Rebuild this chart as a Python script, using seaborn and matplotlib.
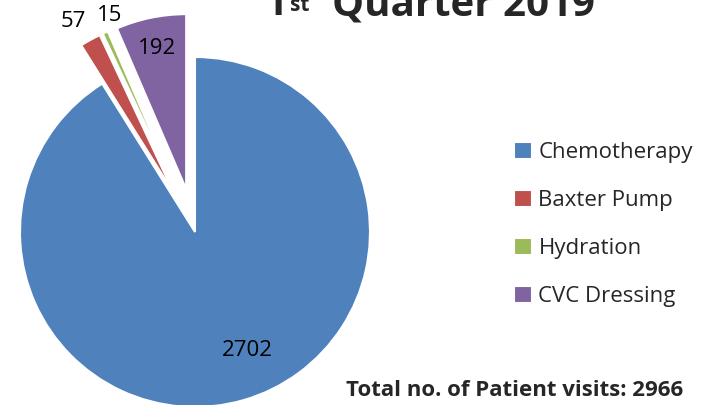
import matplotlib.pyplot as plt
import numpy as np
import seaborn as sns

# Chart data
categories = ["Chemotherapy", "Baxter Pump", "Hydration", "CVC Dressing"]
visits = [2702, 57, 15, 192]
colors = ["#4F81BD", "#C0504D", "#9BBB59", "#8064A2"]
explode = [0, 0.25, 0.25, 0.25]
# label placement (radius fraction, angle nudge in degrees)
label_dist = [0.74, 1.14, 1.08, 0.82]
label_nudge = [8, 1.6, -3.4, 0]
total_visits = 2966

sns.set_theme(style="white")
plt.rcParams["font.family"] = ["Open Sans", "DejaVu Sans"]

fig = plt.figure(figsize=(7.17, 4.05), dpi=100)

# pie axes: centre at (195, 232) px from top-left, radius 175 px
R_PX = 175
LIM = 1.3
w_px = 2 * LIM * R_PX
cx, cy = 195, 405 - 232
ax = fig.add_axes([(cx - w_px / 2) / 717, (cy - w_px / 2) / 405, w_px / 717, w_px / 405])

wedges, _ = ax.pie(
    visits,
    colors=colors,
    explode=explode,
    startangle=90,
    counterclock=False,
    wedgeprops={"edgecolor": "white", "linewidth": 1.5},
)
ax.set_xlim(-LIM, LIM)
ax.set_ylim(-LIM, LIM)
ax.set_aspect("equal")
ax.axis("off")

for w, val, d, nudge in zip(wedges, visits, label_dist, label_nudge):
    ang = np.deg2rad((w.theta1 + w.theta2) / 2 + nudge)
    x = w.center[0] + d * np.cos(ang)
    y = w.center[1] + d * np.sin(ang)
    ax.text(x, y, str(val), ha="center", va="center", fontsize=16, color="black")

# title with superscript
fig.text(288 / 717, 0.962, "1", ha="right", va="baseline", fontsize=29, fontweight="bold")
fig.text(290 / 717, 0.972, "st", ha="left", va="baseline", fontsize=15, fontweight="bold")
fig.text(332 / 717, 0.962, "Quarter 2019", ha="left", va="baseline", fontsize=29, fontweight="bold")

fig.legend(
    wedges,
    categories,
    loc="upper left",
    bbox_to_anchor=(494 / 717, 1 - 122 / 405),
    frameon=False,
    fontsize=16,
    handlelength=0.8,
    handleheight=0.8,
    handletextpad=0.3,
    labelspacing=1.2,
)

fig.text(515 / 717, 1 - 396 / 405, f"Total no. of Patient visits: {total_visits}",
         ha="center", va="baseline", fontsize=16, fontweight="bold")

fig.savefig("out.png", dpi=100)
